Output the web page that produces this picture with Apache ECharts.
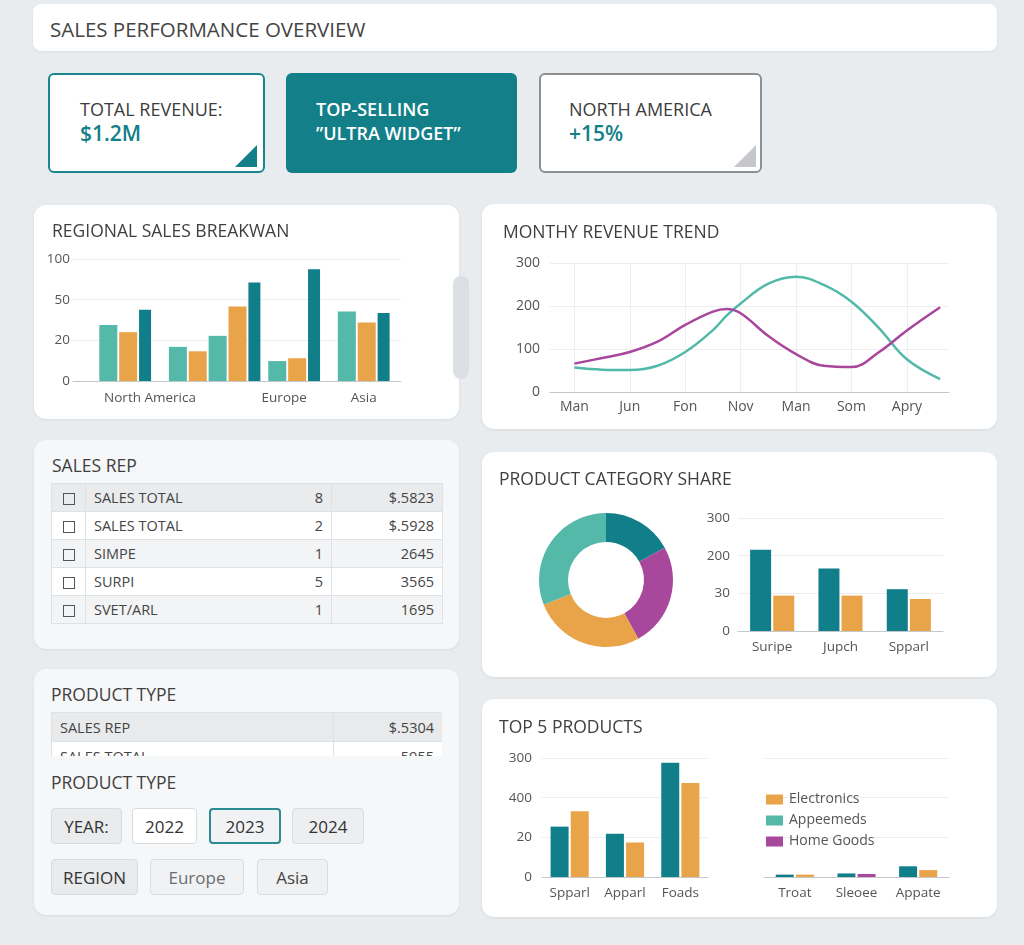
<!DOCTYPE html>
<html>
<head>
<meta charset="utf-8">
<script src="https://cdn.jsdelivr.net/npm/echarts@6/dist/echarts.min.js"></script>
<style>
html,body{margin:0;padding:0;}
body{width:1024px;height:945px;overflow:hidden;background:#e9ecef;font-family:"Open Sans","Noto Sans",sans-serif;color:#444;position:relative;}
.abs{position:absolute;box-sizing:border-box;}
.card{position:absolute;box-sizing:border-box;background:#fff;border-radius:12px;box-shadow:0 1px 3px rgba(0,0,0,0.07);}
.grey{background:#f6f7f8;}
.title{position:absolute;font-size:17.5px;line-height:20px;color:#3f3f3f;white-space:nowrap;z-index:3;}
.chart{position:absolute;z-index:2;}
.kl{position:absolute;font-size:18px;line-height:24px;color:#3c3c3c;white-space:nowrap;}
.kv{position:absolute;font-size:21px;line-height:24px;color:#137f89;font-weight:600;white-space:nowrap;}
.tri{position:absolute;width:22px;height:22px;clip-path:polygon(100% 0,100% 100%,0 100%);}
table{border-collapse:collapse;table-layout:fixed;font-size:14.5px;color:#444;}
td{border:1px solid #dfe2e5;padding:0 8px;height:27px;white-space:nowrap;overflow:hidden;}
.cb{display:inline-block;width:10px;height:10px;border:1.5px solid #555;vertical-align:middle;}
.btn{position:absolute;box-sizing:border-box;border:1px solid #d9dcdf;border-radius:4px;font-size:17px;display:flex;align-items:center;justify-content:center;color:#333;}
</style>
</head>
<body>
<!-- header -->
<div class="card" style="left:33px;top:4px;width:964px;height:47px;border-radius:8px;"></div>
<div class="abs" style="left:50px;top:17px;font-size:20.5px;line-height:24px;color:#444;white-space:nowrap;">SALES PERFORMANCE OVERVIEW</div>

<!-- KPI cards -->
<div class="abs" style="left:48px;top:73px;width:217px;height:100px;border:2px solid #1b858e;background:#fff;border-radius:6px;">
  <div class="kl" style="left:30px;top:22px;">TOTAL REVENUE:</div>
  <div class="kv" style="left:30px;top:46px;">$1.2M</div>
  <div class="tri" style="left:185px;top:70px;background:#137f89;"></div>
</div>
<div class="abs" style="left:286px;top:73px;width:231px;height:100px;background:#127f89;border-radius:6px;">
  <div class="kl" style="left:30px;top:24px;color:#fff;font-weight:600;">TOP-SELLING</div>
  <div class="kl" style="left:30px;top:48px;color:#fff;font-weight:600;">”ULTRA WIDGET”</div>
</div>
<div class="abs" style="left:539px;top:73px;width:223px;height:100px;border:2px solid #8d9093;background:#fff;border-radius:6px;">
  <div class="kl" style="left:28px;top:22px;">NORTH AMERICA</div>
  <div class="kv" style="left:28px;top:46px;">+15%</div>
  <div class="tri" style="left:193px;top:70px;background:#c5c7ca;"></div>
</div>

<!-- cards -->
<div class="card" style="left:34px;top:205px;width:425px;height:214px;"></div>
<div class="abs" style="left:453px;top:276px;width:16px;height:103px;border-radius:8px;background:#dcdfe3;"></div>
<div class="card" style="left:482px;top:204px;width:515px;height:225px;"></div>
<div class="card grey" style="left:34px;top:440px;width:425px;height:209px;"></div>
<div class="card" style="left:482px;top:452px;width:515px;height:225px;"></div>
<div class="card grey" style="left:34px;top:669px;width:425px;height:246px;"></div>
<div class="card" style="left:482px;top:699px;width:515px;height:218px;"></div>

<!-- titles -->
<div class="title" style="left:52px;top:220px;">REGIONAL SALES BREAKWAN</div>
<div class="title" style="left:503px;top:221px;">MONTHY REVENUE TREND</div>
<div class="title" style="left:52px;top:455px;">SALES REP</div>
<div class="title" style="left:499px;top:468px;">PRODUCT CATEGORY SHARE</div>
<div class="title" style="left:51px;top:684px;">PRODUCT TYPE</div>
<div class="title" style="left:51px;top:772px;">PRODUCT TYPE</div>
<div class="title" style="left:499px;top:716px;">TOP 5 PRODUCTS</div>

<!-- sales rep table -->
<table id="repTable" class="abs" style="left:51px;top:483px;width:391px;">
  <colgroup><col style="width:34px"><col style="width:246px"><col style="width:111px"></colgroup>
  <tbody id="repBody"></tbody>
</table>

<!-- product type table (clipped) -->
<div class="abs" style="left:51px;top:712px;width:391px;height:44px;overflow:hidden;">
  <table style="width:391px;">
    <colgroup><col style="width:282px"><col style="width:109px"></colgroup>
    <tbody id="ptBody"></tbody>
  </table>
</div>

<!-- filter buttons -->
<div class="btn" style="left:51px;top:808px;width:71px;height:36px;background:#e9ebed;">YEAR:</div>
<div class="btn" style="left:132px;top:808px;width:65px;height:36px;background:#fff;">2022</div>
<div class="btn" style="left:209px;top:808px;width:72px;height:36px;background:#f0f2f3;border:2px solid #2a8c92;">2023</div>
<div class="btn" style="left:292px;top:808px;width:72px;height:36px;background:#eceef0;">2024</div>
<div class="btn" style="left:51px;top:859px;width:87px;height:36px;background:#e8eaec;">REGION</div>
<div class="btn" style="left:150px;top:859px;width:94px;height:36px;background:#f1f2f4;color:#6b6e71;">Europe</div>
<div class="btn" style="left:257px;top:859px;width:71px;height:36px;background:#eff1f2;color:#444;">Asia</div>

<!-- charts -->
<div id="cRegion" class="chart" style="left:34px;top:205px;width:425px;height:214px;"></div>
<div id="cTrend" class="chart" style="left:482px;top:204px;width:515px;height:225px;"></div>
<div id="cShare" class="chart" style="left:482px;top:452px;width:515px;height:225px;"></div>
<div id="cTop" class="chart" style="left:482px;top:699px;width:515px;height:218px;"></div>

<script>
// ---------------- DATA ----------------
// Regional sales
const regionNames = ['North America', 'Europe', 'Asia'];
const regionTicks = ['0', '20', '50', '100'];
const regionBarValues = [138, 120, 175, 84, 73, 111, 183, 242, 49, 56, 275, 171, 144, 167];
const regionBarKind = ['light', 'orange', 'dark', 'light', 'orange', 'light', 'orange', 'dark', 'light', 'orange', 'dark', 'light', 'orange', 'dark'];

// Monthly revenue trend
const trendMonths = ['Man', 'Jun', 'Fon', 'Nov', 'Man', 'Som', 'Apry'];
const trendX = [0, 0.5, 1, 1.5, 2, 2.5, 2.75, 3, 3.5, 4, 4.5, 5, 5.5, 6, 6.6];
const trendTeal = [57, 52, 51, 61, 93, 144, 178, 206, 252, 268, 249, 210, 148, 76, 30];
const trendPurple = [66, 79, 93, 117, 156, 187, 193, 183, 130, 88, 61, 58, 93, 143, 197];

// Sales rep table
const repNames = ['SALES TOTAL', 'SALES TOTAL', 'SIMPE', 'SURPI', 'SVET/ARL'];
const repCounts = ['8', '2', '1', '5', '1'];
const repValues = ['$.5823', '$.5928', '2645', '3565', '1695'];

// Product type table
const ptNames = ['SALES REP', 'SALES TOTAL'];
const ptValues = ['$.5304', '5955'];

// Product category share
const shareNames = ['Other', 'Home Goods', 'Electronics', 'Appeemeds'];
const shareValues = [17, 25, 27, 31];
const shareCats = ['Suripe', 'Jupch', 'Spparl'];
const shareTicks = ['0', '30', '200', '300'];
const shareDark = [216, 166, 111];
const shareOrange = [94, 94, 85];

// Top 5 products
const topCats = ['Spparl', 'Apparl', 'Foads'];
const topTicks = ['0', '20', '400', '300'];
const topDark = [127, 109, 288];
const topOrange = [166, 87, 237];
const topRightCats = ['Troat', 'Sleoee', 'Appate'];
const topRightDark = [6, 9, 27];
const topRightOrange = [6, null, 17.5];
const topRightPurple = [null, 7.5, null];
const legendNames = ['Electronics', 'Appeemeds', 'Home Goods'];

// ---------------- STYLE / LAYOUT ----------------
const C = {dark: '#117f89', light: '#55b9a9', orange: '#e9a449', purple: '#a8489c', lineTeal: '#52b9a8', linePurple: '#a7469b'};
const FONT = '"Open Sans", "Noto Sans", sans-serif';
const labelStyle = {color: '#555', fontSize: 13.5, fontFamily: FONT};
const gridLine = {show: true, lineStyle: {color: '#eceef0', width: 1}};
const axisLine = {show: true, lineStyle: {color: '#c4c8cc', width: 1}};

const REGION_SLOTS = 66;
const regionBarSlot = [6, 10, 14, 20, 24, 28, 32, 36, 40, 44, 48, 54, 58, 62];
const regionLabelSlot = [15, 42, 58];

// ---------------- TABLES ----------------
document.getElementById('repBody').innerHTML = repNames.map((n, i) => {
  const bg = ['#e9ebed', '#ffffff', '#f3f4f5', '#ffffff', '#f3f4f5'][i];
  return '<tr style="background:' + bg + '"><td style="text-align:center;padding:0"><span class="cb"></span></td>' +
    '<td><div style="display:flex;justify-content:space-between"><span>' + n + '</span><span>' + repCounts[i] + '</span></div></td>' +
    '<td style="text-align:right">' + repValues[i] + '</td></tr>';
}).join('');
document.getElementById('ptBody').innerHTML = ptNames.map((n, i) => {
  const bg = ['#e8eaec', '#ffffff'][i];
  return '<tr style="background:' + bg + '"><td style="height:28px">' + n + '</td><td style="text-align:right">' + ptValues[i] + '</td></tr>';
}).join('');

// ---------------- REGIONAL CHART ----------------
(function () {
  const cats = new Array(REGION_SLOTS).fill('');
  regionLabelSlot.forEach((s, i) => { cats[s] = regionNames[i]; });
  const kinds = ['light', 'orange', 'dark'];
  const widths = {light: 18, orange: 18, dark: 12};
  const series = kinds.map(k => {
    const arr = new Array(REGION_SLOTS).fill(null);
    regionBarValues.forEach((v, i) => { if (regionBarKind[i] === k) arr[regionBarSlot[i]] = v; });
    return {type: 'bar', name: k, data: arr, barWidth: widths[k], barGap: '-100%', itemStyle: {color: C[k]}, silent: true};
  });
  const ch = echarts.init(document.getElementById('cRegion'), null, {renderer: 'canvas'});
  ch.setOption({
    animation: false,
    grid: {left: 39, right: 58, top: 54, bottom: 38},
    xAxis: {type: 'category', data: cats, axisTick: {show: false}, axisLine: axisLine,
      axisLabel: Object.assign({interval: 0, margin: 10}, labelStyle)},
    yAxis: {type: 'value', min: 0, max: 300, interval: 100, axisLine: {show: false}, axisTick: {show: false},
      splitLine: gridLine,
      axisLabel: Object.assign({margin: 3, formatter: v => regionTicks[Math.round(v / 100)]}, labelStyle)},
    series: series
  });
})();

// ---------------- TREND CHART ----------------
(function () {
  const ch = echarts.init(document.getElementById('cTrend'));
  const ticks = trendMonths.map((m, i) => i);
  ch.setOption({
    animation: false,
    grid: {left: 68, right: 48, top: 59, bottom: 37},
    xAxis: {type: 'value', min: -0.44, max: 6.76, axisLine: axisLine,
      axisTick: {show: false, customValues: ticks},
      splitLine: {show: true, lineStyle: {color: '#eceef0'}},
      axisLabel: {customValues: ticks, margin: 8, fontSize: 14, color: '#555', fontFamily: FONT, formatter: v => trendMonths[Math.round(v)]}},
    yAxis: {type: 'value', min: 0, max: 300, interval: 100, axisLine: {show: false}, axisTick: {show: false},
      splitLine: gridLine,
      axisLabel: {margin: 10, fontSize: 14, color: '#555', fontFamily: FONT}},
    series: [
      {type: 'line', name: 'Teal', smooth: 0.4, symbol: 'none', data: trendX.map((x, i) => [x, trendTeal[i]]),
        lineStyle: {color: C.lineTeal, width: 2.5}, itemStyle: {color: C.lineTeal}, silent: true},
      {type: 'line', name: 'Purple', smooth: 0.4, symbol: 'none', data: trendX.map((x, i) => [x, trendPurple[i]]),
        lineStyle: {color: C.linePurple, width: 2.5}, itemStyle: {color: C.linePurple}, silent: true}
    ]
  });
})();

// ---------------- CATEGORY SHARE ----------------
(function () {
  const ch = echarts.init(document.getElementById('cShare'));
  const pieColors = [C.dark, C.purple, C.orange, C.light];
  ch.setOption({
    animation: false,
    grid: {left: 256, right: 54, top: 66, bottom: 46},
    xAxis: {type: 'category', data: shareCats, axisTick: {show: false}, axisLine: axisLine,
      axisLabel: Object.assign({margin: 9}, labelStyle)},
    yAxis: {type: 'value', min: 0, max: 300, interval: 100, axisLine: {show: false}, axisTick: {show: false},
      splitLine: gridLine,
      axisLabel: Object.assign({margin: 8, formatter: v => shareTicks[Math.round(v / 100)]}, labelStyle)},
    series: [
      {type: 'pie', center: [124, 128], radius: [38, 67], startAngle: 90, clockwise: true,
        label: {show: false}, labelLine: {show: false}, silent: true,
        data: shareNames.map((n, i) => ({name: n, value: shareValues[i], itemStyle: {color: pieColors[i]}}))},
      {type: 'bar', name: 'Dark', data: shareDark, barWidth: 21, barGap: '10%', itemStyle: {color: C.dark}, silent: true},
      {type: 'bar', name: 'Orange', data: shareOrange, barWidth: 21, barGap: '10%', itemStyle: {color: C.orange}, silent: true}
    ]
  });
})();

// ---------------- TOP 5 PRODUCTS ----------------
(function () {
  const ch = echarts.init(document.getElementById('cTop'));
  const legendColors = {Electronics: C.orange, Appeemeds: C.light, 'Home Goods': C.purple};
  ch.setOption({
    animation: false,
    legend: {orient: 'vertical', left: 279, top: 88, itemWidth: 17, itemHeight: 10, itemGap: 6,
      icon: 'rect', selectedMode: false,
      textStyle: {color: '#555', fontSize: 14, fontFamily: FONT, lineHeight: 15, padding: [0, 0, 0, 1]},
      data: legendNames.map(n => ({name: n, itemStyle: {color: legendColors[n]}}))},
    grid: [
      {left: 60, right: 289, top: 59, bottom: 40},
      {left: 282, right: 48, top: 59, bottom: 40}
    ],
    xAxis: [
      {type: 'category', gridIndex: 0, data: topCats, axisTick: {show: false}, axisLine: axisLine,
        axisLabel: Object.assign({margin: 9}, labelStyle)},
      {type: 'category', gridIndex: 1, data: topRightCats, axisTick: {show: false}, axisLine: axisLine,
        axisLabel: Object.assign({margin: 9}, labelStyle)}
    ],
    yAxis: [
      {type: 'value', gridIndex: 0, min: 0, max: 300, interval: 100, axisLine: {show: false}, axisTick: {show: false},
        splitLine: gridLine,
        axisLabel: Object.assign({margin: 10, formatter: v => topTicks[Math.round(v / 100)]}, labelStyle)},
      {type: 'value', gridIndex: 1, min: 0, max: 300, interval: 100, axisLine: {show: false}, axisTick: {show: false},
        splitLine: gridLine, axisLabel: {show: false}}
    ],
    series: [
      {type: 'bar', name: 'Appeemeds', xAxisIndex: 0, yAxisIndex: 0, data: topDark, barWidth: 18, barGap: '12%', itemStyle: {color: C.dark}, silent: true},
      {type: 'bar', name: 'Electronics', xAxisIndex: 0, yAxisIndex: 0, data: topOrange, barWidth: 18, barGap: '12%', itemStyle: {color: C.orange}, silent: true},
      {type: 'bar', name: 'Appeemeds', xAxisIndex: 1, yAxisIndex: 1, data: topRightDark, barWidth: 18, barGap: '12%', itemStyle: {color: C.dark}, silent: true},
      {type: 'bar', name: 'Electronics', xAxisIndex: 1, yAxisIndex: 1, stack: 'rest', data: topRightOrange, barWidth: 18, barGap: '12%', itemStyle: {color: C.orange}, silent: true},
      {type: 'bar', name: 'Home Goods', xAxisIndex: 1, yAxisIndex: 1, stack: 'rest', data: topRightPurple, barWidth: 18, barGap: '12%', itemStyle: {color: C.purple}, silent: true}
    ]
  });
})();
</script>
</body>
</html>
